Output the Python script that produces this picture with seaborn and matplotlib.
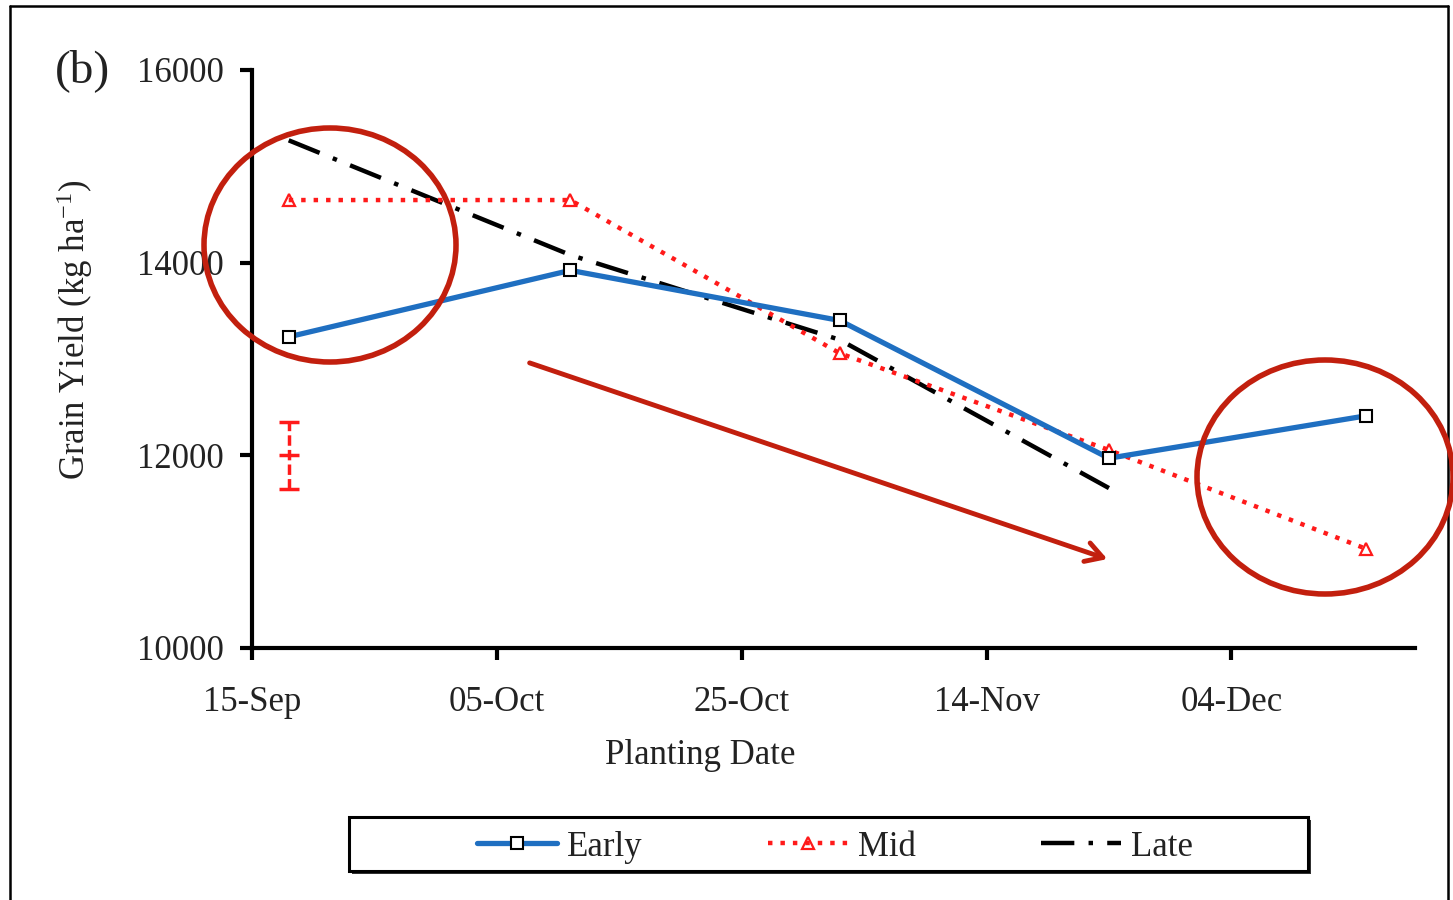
import matplotlib
matplotlib.use("Agg")
import matplotlib.pyplot as plt
import matplotlib.dates as mdates
from matplotlib.patches import Ellipse, Rectangle
from matplotlib.lines import Line2D
import seaborn as sns
import pandas as pd

# ---- data ----
dates_all = ["2013-09-18", "2013-10-11", "2013-11-02", "2013-11-24", "2013-12-15"]
early = [13230, 13920, 13400, 11970, 12410]
mid = [14650, 14650, 13060, 12055, 11030]
late_dates = ["2013-09-18", "2013-10-11", "2013-11-02", "2013-11-24"]
late = [15270, 14080, 13200, 11660]
err_date = "2013-09-18"
err_center = 12000
err_half = 350
tick_dates = ["2013-09-15", "2013-10-05", "2013-10-25", "2013-11-14", "2013-12-04"]
y_ticks = [10000, 12000, 14000, 16000]

sns.set_theme(style="white")
plt.rcParams["font.family"] = ["Liberation Serif", "DejaVu Serif"]
plt.rcParams["mathtext.fontset"] = "custom"
plt.rcParams["mathtext.rm"] = "Liberation Serif"
plt.rcParams["mathtext.it"] = "Liberation Serif:italic"

df_e = pd.DataFrame({"date": pd.to_datetime(dates_all), "y": early})
df_m = pd.DataFrame({"date": pd.to_datetime(dates_all), "y": mid})
df_l = pd.DataFrame({"date": pd.to_datetime(late_dates), "y": late})

fig = plt.figure(figsize=(14.53, 9.0), dpi=100)
ax = fig.add_axes([252/1453, 1-648/900, (1415-252)/1453, (648-70)/900])

blue = "#1f6fc1"
red = "#ff1a1a"
dark_red = "#c21f0e"
late_ls = (0, (7.5, 3.2, 1, 3.2))
mid_ls = (0, (1, 1.8))

sns.lineplot(data=df_l, x="date", y="y", ax=ax, color="black", lw=3.2,
             linestyle=late_ls, zorder=3)
sns.lineplot(data=df_m, x="date", y="y", ax=ax, color=red, lw=3.2,
             linestyle=mid_ls, marker="^", markersize=9,
             markerfacecolor="none", markeredgecolor=red, markeredgewidth=1.6, zorder=4)
sns.lineplot(data=df_e, x="date", y="y", ax=ax, color=blue, lw=3.8,
             marker="s", markersize=9, markerfacecolor="white",
             markeredgecolor="black", markeredgewidth=1.5, zorder=5)

eb = ax.errorbar([pd.Timestamp(err_date)], [err_center], yerr=[err_half], fmt="_",
                 color=red, ecolor=red, elinewidth=2.5, capsize=7, capthick=2.5,
                 markersize=14, markeredgewidth=2.5, linestyle="none", zorder=6)
for lc in eb[2]:
    lc.set_linestyle((0, (3, 1.2)))

ax.set_xlim(pd.Timestamp("2013-09-15"), pd.Timestamp("2013-12-19"))
ax.set_ylim(10000, 16000)
ax.set_xticks(pd.to_datetime(tick_dates))
ax.xaxis.set_major_formatter(mdates.DateFormatter("%d-%b"))
ax.set_yticks(y_ticks)
ax.set_yticklabels([str(v) for v in y_ticks])

for s in ["top", "right"]:
    ax.spines[s].set_visible(False)
for s in ["left", "bottom"]:
    ax.spines[s].set_linewidth(3)
    ax.spines[s].set_color("black")
ax.tick_params(axis="both", direction="out", length=8.5, width=3, color="black",
               labelsize=25, labelcolor="#222222", bottom=True, left=True)
ax.tick_params(axis="y", pad=12)
ax.tick_params(axis="x", pad=19)
ax.grid(False)

ax.set_xlabel("Planting Date", fontsize=25, color="#222222")
ax.xaxis.set_label_coords(0.385, -0.158)
ax.set_ylabel("Grain Yield (kg ha$^{-1}$)", fontsize=25, color="#222222")
ax.yaxis.set_label_coords(-0.135, 0.55)

fig.text(0.038, 0.922, "(b)", fontsize=34, va="center", ha="left", color="#222222")

# annotations: circles and arrow
fig.patches.append(Ellipse((330/1453, 1-245/900), 252/1453, 234/900, fill=False,
                           edgecolor=dark_red, lw=4, transform=fig.transFigure, zorder=10))
fig.patches.append(Ellipse((1325/1453, 1-477/900), 256/1453, 234/900, fill=False,
                           edgecolor=dark_red, lw=4, transform=fig.transFigure, zorder=10))
fig.add_artist(matplotlib.patches.FancyArrowPatch(
    (527/1453, 1-362/900), (1110/1453, 1-560/900), transform=fig.transFigure,
    arrowstyle="->,head_length=12,head_width=7", lw=3.5, color=dark_red,
    mutation_scale=1, zorder=10))

# figure border
for (x0, y0, x1, y1) in [(10/1453, 0, 10/1453, 1-6/900),
                         (10/1453, 1-6/900, 1448/1453, 1-6/900),
                         (1448/1453, 1-6/900, 1448/1453, 0)]:
    fig.add_artist(Line2D([x0, x1], [y0, y1], transform=fig.transFigure, color="black", lw=1.8))

# legend frame (with slight shadow)
fig.patches.append(Rectangle((352/1453, 1-874/900), 959/1453, 54/900, facecolor="#333333",
                             edgecolor="none", transform=fig.transFigure, zorder=1))
fig.patches.append(Rectangle((349/1453, 1-871/900), 959/1453, 54/900, facecolor="white",
                             edgecolor="black", lw=2.2, transform=fig.transFigure, zorder=2))

handles = [
    Line2D([], [], color=blue, lw=3.8, marker="s", markersize=9, markerfacecolor="white",
           markeredgecolor="black", markeredgewidth=1.5),
    Line2D([], [], color=red, lw=3.2, linestyle=mid_ls, marker="^", markersize=9,
           markerfacecolor="none", markeredgecolor=red, markeredgewidth=1.6),
    Line2D([], [], color="black", lw=3.2, linestyle=late_ls),
]
leg = fig.legend(handles, ["Early", "Mid", "Late"], ncol=3, loc="center",
                 bbox_to_anchor=(835/1453, 1-847/900),
                 fontsize=25, frameon=False,
                 handlelength=2.3, handletextpad=0.3, borderaxespad=0, borderpad=0.2,
                 columnspacing=3.6)
leg.set_zorder(5)
for t in leg.get_texts():
    t.set_color("#222222")

fig.savefig("out.png", dpi=100)
